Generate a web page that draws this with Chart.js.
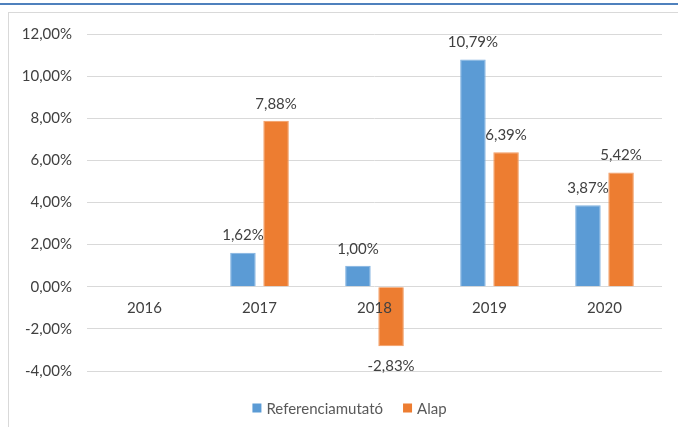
<!DOCTYPE html>
<html>
<head>
<meta charset="utf-8">
<script src="https://cdn.jsdelivr.net/npm/chart.js@4/dist/chart.umd.min.js"></script>
<style>
  html, body { margin: 0; padding: 0; background: #fff; }
  #wrap { position: relative; width: 678px; height: 427px; overflow: hidden; }
  #topline { position: absolute; left: 0; top: 3px; width: 678px; height: 2px; background: #4f81bd; }
  #frame { position: absolute; left: 8px; top: 12px; width: 720px; height: 500px; border: 1px solid #d9d9d9; }
  canvas { position: absolute; left: 0; top: 0; }
</style>
</head>
<body>
<div id="wrap">
  <div id="topline"></div>
  <div id="frame"></div>
  <canvas id="c" width="678" height="427"></canvas>
</div>
<script>
const categories = ['2016', '2017', '2018', '2019', '2020'];
const seriesNames = ['Referenciamutató', 'Alap'];
const referenciamutato = [null, 1.62, 1.00, 10.79, 3.87];
const alap = [null, 7.88, -2.83, 6.39, 5.42];
const yTicks = [-4, -2, 0, 2, 4, 6, 8, 10, 12];

const FONT = 'Lato, "Open Sans", sans-serif';
const fmt = v => v.toFixed(2).replace('.', ',') + '%';

const dataLabels = {
  id: 'dataLabels',
  afterDatasetsDraw(chart) {
    const ctx = chart.ctx;
    ctx.save();
    ctx.font = '15px ' + FONT;
    ctx.fillStyle = '#404040';
    ctx.textAlign = 'center';
    ctx.textBaseline = 'middle';
    chart.data.datasets.forEach((ds, di) => {
      const meta = chart.getDatasetMeta(di);
      meta.data.forEach((bar, i) => {
        const v = ds.data[i];
        if (v === null || v === undefined) return;
        const y = v >= 0 ? bar.y - 17 : bar.y + 20;
        ctx.fillText(fmt(v), bar.x, y);
      });
    });
    ctx.restore();
  }
};

const customLegend = {
  id: 'customLegend',
  afterDraw(chart) {
    const ctx = chart.ctx;
    ctx.save();
    ctx.font = '15px ' + FONT;
    ctx.textBaseline = 'middle';
    ctx.textAlign = 'left';
    const box = 9, gap = 5, itemGap = 20;
    const items = chart.data.datasets.map(ds => ({ label: ds.label, color: ds.backgroundColor, w: ctx.measureText(ds.label).width }));
    let total = 0;
    items.forEach((it, i) => { total += box + gap + it.w + (i < items.length - 1 ? itemGap : 0); });
    let x = 349.5 - total / 2;
    const cy = 408;
    items.forEach(it => {
      ctx.fillStyle = it.color;
      ctx.fillRect(x, cy - box / 2, box, box);
      x += box + gap;
      ctx.fillStyle = '#595959';
      ctx.fillText(it.label, x, cy + 1);
      x += it.w + itemGap;
    });
    ctx.restore();
  }
};

new Chart(document.getElementById('c'), {
  type: 'bar',
  data: {
    labels: categories,
    datasets: [
      { label: seriesNames[0], data: referenciamutato, backgroundColor: '#5b9bd5', borderColor: '#7fb1e0', borderWidth: 1 },
      { label: seriesNames[1], data: alap, backgroundColor: '#ed7d31', borderColor: '#f29a60', borderWidth: 1 }
    ]
  },
  options: {
    responsive: false,
    animation: false,
    devicePixelRatio: 1,
    categoryPercentage: 0.576,
    barPercentage: 0.77,
    layout: { padding: { left: 0, top: 34, right: 16, bottom: 56 } },
    plugins: { legend: { display: false }, tooltip: { enabled: false } },
    scales: {
      x: {
        position: { y: 0 },
        grid: { display: false },
        border: { display: false },
        ticks: { z: 1, color: '#404040', font: { family: FONT, size: 15 }, padding: 4, maxRotation: 0 }
      },
      y: {
        min: -4, max: 12,
        afterFit: s => { s.width = 87; },
        afterBuildTicks: s => { s.ticks = yTicks.map(v => ({ value: v })); },
        grid: { color: '#d9d9d9', lineWidth: 1, drawTicks: false },
        border: { display: false },
        ticks: { color: '#404040', font: { family: FONT, size: 15 }, padding: 15, callback: v => fmt(v) }
      }
    }
  },
  plugins: [dataLabels, customLegend]
});
</script>
</body>
</html>
